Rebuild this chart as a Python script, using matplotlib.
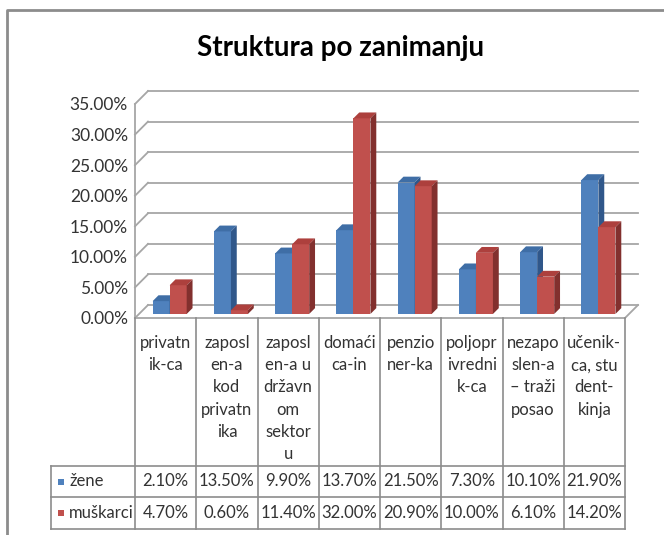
import numpy as np
import matplotlib
matplotlib.use("Agg")
import matplotlib.pyplot as plt
from matplotlib.patches import Polygon, Rectangle

plt.rcParams['font.family'] = ['Lato', 'DejaVu Sans']

# data
categories = ["privatn\nik-ca", "zaposl\nen-a\nkod\nprivatn\nika",
              "zaposl\nen-a u\ndržavn\nom\nsektor\nu", "domaći\nca-in",
              "penzio\nner-ka", "poljopr\nivredni\nk-ca",
              "nezapo\nslen-a\n– traži\nposao", "učenik-\nca, stu\ndent-\nkinja"]
zene = [2.10, 13.50, 9.90, 13.70, 21.50, 7.30, 10.10, 21.90]
muskarci = [4.70, 0.60, 11.40, 32.00, 20.90, 10.00, 6.10, 14.20]
series_names = ["žene", "muškarci"]
yticks = [0, 5, 10, 15, 20, 25, 30, 35]

W, H = 664, 535
fig = plt.figure(figsize=(W / 100, H / 100), dpi=100)
txt_c = "#333333"

def box(l, t, r, b):
    # pixel box -> figure fraction
    return [l / W, 1 - b / H, (r - l) / W, (b - t) / H]

# main (3d-looking) plot area
ax = fig.add_axes(box(135, 104, 625, 318))
n = len(categories)
ax.set_xlim(0, n)
ax.set_ylim(0, 35)
for s in ax.spines.values():
    s.set_visible(False)
ax.set_xticks([])
ax.set_yticks(yticks)
ax.set_yticklabels([f"{t:.2f}%" for t in yticks], fontsize=12.5, color=txt_c)
ax.tick_params(axis='y', length=0, pad=5)

px_x = 490 / n
px_y = 214 / 35
Dx, Dy = 13 / px_x, 13 / px_y  # wall depth
grid_c = "#a6a6a6"

for t in yticks:
    ax.plot([Dx, n + Dx], [t + Dy, t + Dy], color=grid_c, lw=1.3, clip_on=False, zorder=1)
    ax.plot([0, Dx], [t, t + Dy], color=grid_c, lw=1.3, clip_on=False, zorder=1)
ax.plot([0, 0], [0, 35], color=grid_c, lw=1.3, clip_on=False, zorder=1)
ax.plot([0, n], [0, 0], color=grid_c, lw=1.3, clip_on=False, zorder=1)
ax.plot([n, n + Dx], [0, Dy], color=grid_c, lw=1.3, clip_on=False, zorder=1)

# bars
w = 0.278
d0, d1 = 0.31, 0.76
fx, fy = d0 * Dx, d0 * Dy
bx, by = (d1 - d0) * Dx, (d1 - d0) * Dy
x = np.arange(n)
colors = [("#4f81bd", "#3f6ea6", "#30578a"), ("#c0504d", "#ad403d", "#82302e")]

for k, vals in enumerate([zene, muskarci]):
    front, top, side = colors[k]
    lefts = x + 0.5 - w + fx + k * w
    ax.bar(lefts, vals, w, bottom=fy, align='edge', color=front, zorder=3 + k,
           clip_on=False, linewidth=0)
    for xl, v in zip(lefts, vals):
        yt = fy + v
        ax.add_patch(Polygon([(xl, yt), (xl + w, yt), (xl + w + bx, yt + by), (xl + bx, yt + by)],
                             closed=True, color=top, lw=0, zorder=3 + k, clip_on=False))
        ax.add_patch(Polygon([(xl + w, fy), (xl + w, yt), (xl + w + bx, yt + by), (xl + w + bx, fy + by)],
                             closed=True, color=side, lw=0, zorder=3 + k, clip_on=False))

# data table
tb = fig.add_axes(box(51, 318, 625, 529))
x0 = -(135 - 51) / px_x
tb.set_xlim(x0, n)
tb.set_ylim(211, 0)
tb.axis('off')
line_c = "#8c8c8c"
for i in range(n + 1):
    tb.plot([i, i], [0, 211], color=line_c, lw=1.2, clip_on=False)
tb.plot([x0, x0], [148, 211], color=line_c, lw=1.2, clip_on=False)
for yy in [148, 179, 211]:
    tb.plot([x0, n], [yy, yy], color=line_c, lw=1.2, clip_on=False)

for i, lab in enumerate(categories):
    tb.text(i + 0.5, 17, lab, ha='center', va='top', fontsize=12, color=txt_c,
            linespacing=1.48)

for r, vals in enumerate([zene, muskarci]):
    yc = 163.5 + r * 31.5
    for i, v in enumerate(vals):
        tb.text(i + 0.5, yc, f"{v:.2f}%", ha='center', va='center', fontsize=12, color=txt_c)
    tb.add_patch(Rectangle((x0 + 7 / px_x, yc - 3), 6 / px_x, 6, color=colors[r][0], lw=0, clip_on=False))
    tb.text(x0 + 18 / px_x, yc, series_names[r], ha='left', va='center', fontsize=12, color=txt_c)

# title
fig.text(341 / W, 1 - 48 / H, "Struktura po zanimanju", ha='center', va='center',
         fontsize=20, fontweight='bold', color="#000000")

# chart frame (top and left edges visible)
fig.add_artist(plt.Line2D([7 / W, 7 / W, 1], [0, 1 - 10 / H, 1 - 10 / H],
                          transform=fig.transFigure, color="#8c8c8c", lw=2))

fig.savefig("out.png", dpi=100, facecolor="white")
